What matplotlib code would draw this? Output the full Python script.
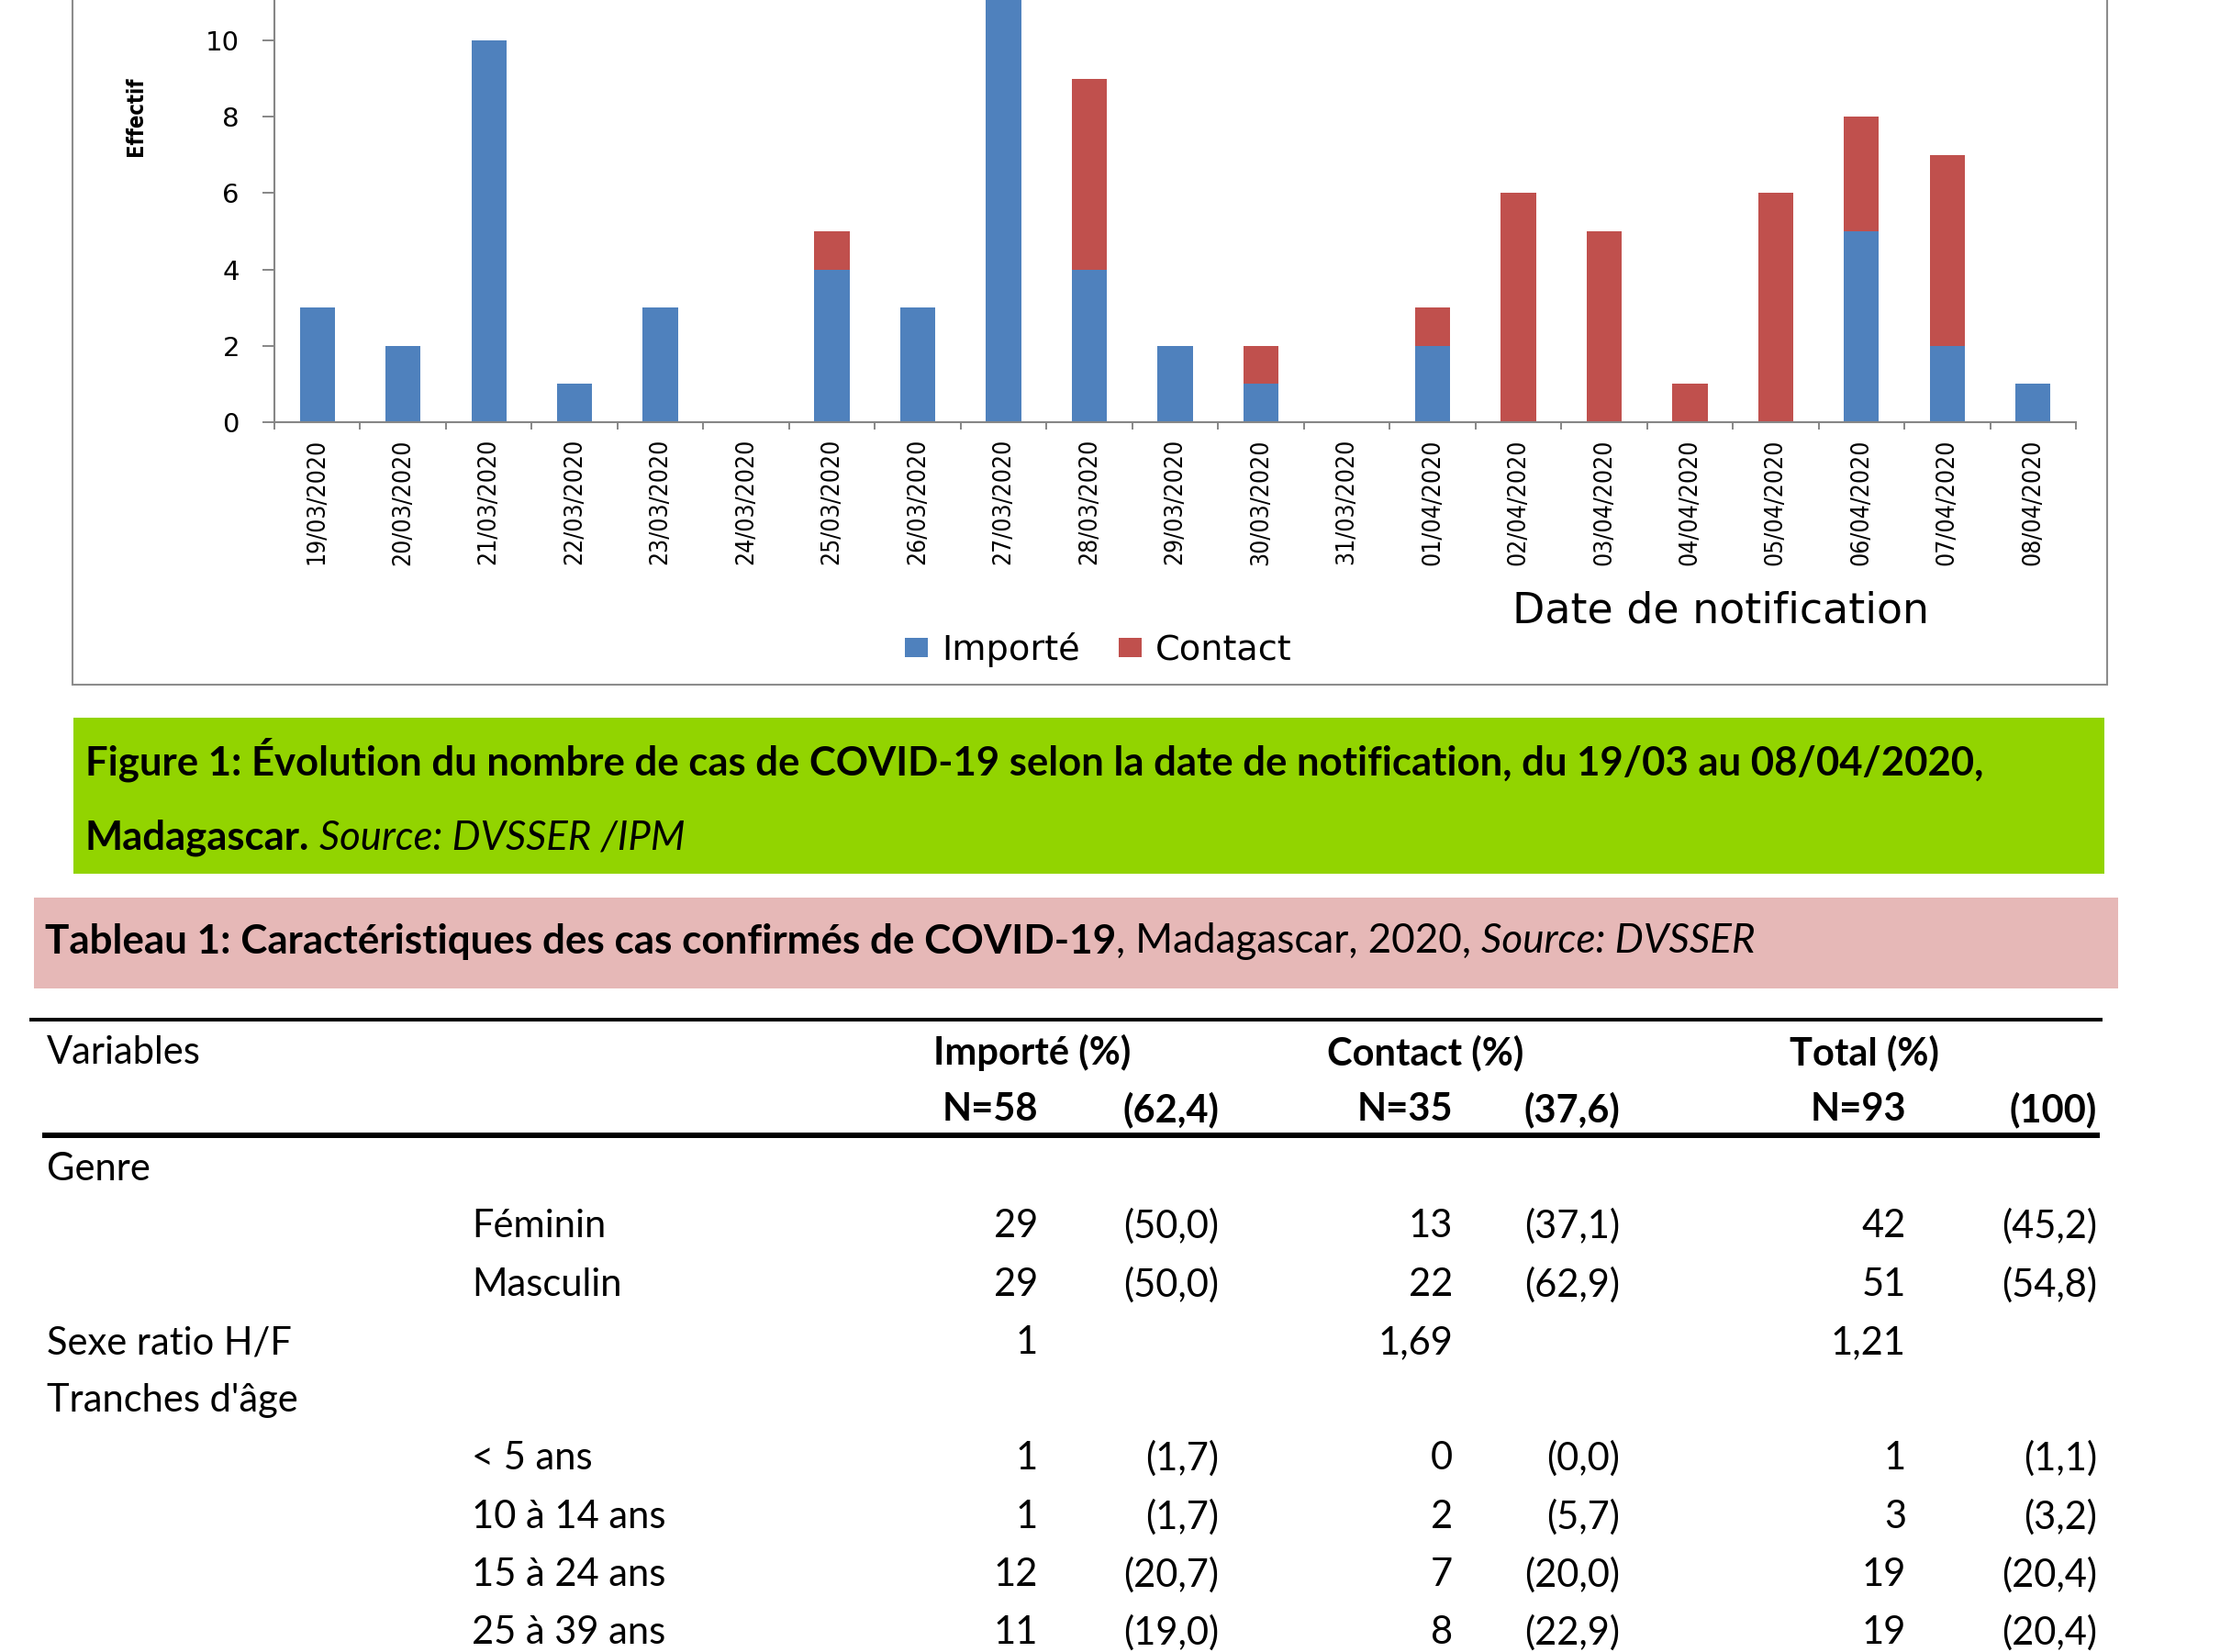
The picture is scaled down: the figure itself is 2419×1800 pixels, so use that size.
"""
Figure 1 + Tableau 1 : cas confirmés de COVID-19, Madagascar
"""
import matplotlib
matplotlib.use('Agg')
import matplotlib.pyplot as plt
from matplotlib import font_manager
from matplotlib.patches import Rectangle
import numpy as np

W, H = 2419, 1800

# Chart data: cases per notification date
dates = ['19/03/2020', '20/03/2020', '21/03/2020', '22/03/2020', '23/03/2020',
         '24/03/2020', '25/03/2020', '26/03/2020', '27/03/2020', '28/03/2020',
         '29/03/2020', '30/03/2020', '31/03/2020', '01/04/2020', '02/04/2020',
         '03/04/2020', '04/04/2020', '05/04/2020', '06/04/2020', '07/04/2020',
         '08/04/2020']
importe = [3, 2, 10, 1, 3, 0, 4, 3, 15, 4, 2, 1, 0, 2, 0, 0, 0, 0, 5, 2, 1]
contact = [0, 0, 0, 0, 0, 0, 1, 0, 1, 5, 0, 1, 0, 1, 6, 5, 1, 6, 3, 5, 0]

# Table data
group_headers = ['Importé (%)', 'Contact (%)', 'Total (%)']
group_n = [58, 35, 93]
group_pct = [62.4, 37.6, 100]
row_labels = ['Genre', 'Féminin', 'Masculin', 'Sexe ratio H/F', "Tranches d'âge",
              '< 5 ans', '10 à 14 ans', '15 à 24 ans', '25 à 39 ans']
row_levels = [0, 1, 1, 0, 0, 1, 1, 1, 1]
importe_n = [None, 29, 29, 1, None, 1, 1, 12, 11]
importe_pct = [None, 50.0, 50.0, None, None, 1.7, 1.7, 20.7, 19.0]
contact_n = [None, 13, 22, 1.69, None, 0, 2, 7, 8]
contact_pct = [None, 37.1, 62.9, None, None, 0.0, 5.7, 20.0, 22.9]
total_n = [None, 42, 51, 1.21, None, 1, 3, 19, 19]
total_pct = [None, 45.2, 54.8, None, None, 1.1, 3.2, 20.4, 20.4]

BLUE = '#4F81BD'
RED = '#C0504D'
AXIS_GREY = '#868686'

# condensed DejaVu for the rotated date labels, if it is installed
cond_file = font_manager.findfont(font_manager.FontProperties(family='DejaVu Sans', stretch='condensed'))
condensed = 'Condensed' in cond_file
XT_PROPS = {'family': 'DejaVu Sans', 'fontstretch': 'condensed' if condensed else 'normal',
            'fontsize': 19 if condensed else 17.5}

fig = plt.figure(figsize=(W / 100, H / 100), dpi=100, facecolor='white')

# overlay in pixel coordinates (y down) for frames, boxes and the table
lay = fig.add_axes([0, 0, 1, 1], zorder=0)
lay.set_xlim(0, W)
lay.set_ylim(H, 0)
lay.axis('off')
lay.patch.set_alpha(0)

# ---------------- chart ----------------
y0_px, unit_px, ymax = 460, 41.6, 16
ax = fig.add_axes([299 / W, 1 - y0_px / H, (2262 - 299) / W, ymax * unit_px / H], zorder=2)
ax.patch.set_alpha(0)
x = np.arange(len(dates))
b1 = ax.bar(x, importe, 0.41, color=BLUE, label='Importé')
b2 = ax.bar(x, contact, 0.41, bottom=importe, color=RED, label='Contact')
ax.set_xlim(-0.5, len(dates) - 0.5)
ax.set_ylim(0, ymax)
# ticks above 10 fall outside the page
ax.set_yticks(range(0, 11, 2))
ax.set_yticklabels([str(v) for v in range(0, 11, 2)], fontsize=21, family='DejaVu Sans')
ax.set_xticks(x)
ax.set_xticklabels(dates, rotation=90, **XT_PROPS)
ax.set_xticks(np.arange(-0.5, len(dates)), minor=True)
ax.tick_params(axis='x', which='major', length=0, pad=13)
ax.tick_params(axis='x', which='minor', length=6, width=1.4, color=AXIS_GREY)
ax.tick_params(axis='y', length=9.4, width=1.4, color=AXIS_GREY, pad=18)
for side in ('top', 'right'):
    ax.spines[side].set_visible(False)
for side in ('left', 'bottom'):
    ax.spines[side].set_color(AXIS_GREY)
    ax.spines[side].set_linewidth(1.5)

lay.text(148, 127, 'Effectif', rotation=90, ha='center', va='center', fontweight='bold',
         family='DejaVu Sans', fontstretch='condensed' if condensed else 'normal',
         fontsize=17 if condensed else 16)
lay.text(1875, 666, 'Date de notification', ha='center', va='center',
         family='DejaVu Sans', fontsize=33)
fig.legend(handles=[b1, b2], labels=['Importé', 'Contact'], loc='center',
           bbox_to_anchor=(1197 / W, 1 - 708 / H), ncol=2, frameon=False,
           prop={'family': 'DejaVu Sans', 'size': 27.5}, handlelength=0.65, handleheight=0.5,
           handletextpad=0.4, columnspacing=1.1)

# chart frame (top is cut off by the page)
lay.add_patch(Rectangle((79, -10), 2296 - 79, 746 + 10, fill=False,
                        edgecolor='#8c8c8c', lw=1.5))

# ---------------- caption boxes ----------------
renderer = fig.canvas.get_renderer()
BOLD = {'fontweight': 'bold'}
NORM = {}
ITAL = {'fontstyle': 'italic'}


def runs_width(runs, size):
    total = 0
    for text, style, gap in runs:
        t = lay.text(0, 0, text, fontsize=size, family='Lato', **style)
        total += t.get_window_extent(renderer).width + gap * size * 100 / 72
        t.remove()
    return total


def draw_runs(xp, yp, runs, size):
    for text, style, gap in runs:
        xp += gap * size * 100 / 72
        t = lay.text(xp, yp, text, fontsize=size, family='Lato', ha='left', va='center', **style)
        xp += t.get_window_extent(renderer).width


lay.add_patch(Rectangle((80, 782), 2293 - 80, 952 - 782, color='#92D400', lw=0))
fig_line1 = [('Figure 1: Évolution du nombre de cas de COVID-19 selon la date de notification, du 19/03 au 08/04/2020,', BOLD, 0)]
fig_line2 = [('Madagascar.', BOLD, 0), ('Source: DVSSER /IPM', ITAL, 0.25)]
cap_size = 30 * 2064 / runs_width(fig_line1, 30)
draw_runs(93, 828, fig_line1, cap_size)
draw_runs(93, 913, fig_line2, cap_size)

lay.add_patch(Rectangle((37, 978), 2308 - 37, 1077 - 978, color='#E6B8B7', lw=0))
tab_title = [('Tableau 1: Caractéristiques des cas confirmés de COVID-19', BOLD, 0),
             (', Madagascar, 2020,', NORM, 0), ('Source: DVSSER', ITAL, 0.25)]
tab_size = 30 * 1861 / runs_width(tab_title, 30)
draw_runs(49, 1026, tab_title, tab_size)

# ---------------- table ----------------
TS = 30


def fmt_n(v):
    if v is None:
        return ''
    if float(v).is_integer():
        return str(int(v))
    return f'{v:.2f}'.replace('.', ',')


def fmt_pct(v):
    if v is None:
        return ''
    if float(v).is_integer() and v >= 100:
        return f'({int(v)})'
    return f'({v:.1f})'.replace('.', ',')


lay.plot([32, 2291], [1111, 1111], color='black', lw=2.9, solid_capstyle='butt')
lay.plot([46, 2288], [1237, 1237], color='black', lw=4.3, solid_capstyle='butt')

n_right = [1131, 1583, 2077]
pct_right = [1328, 1765, 2285]
head_center = [1125, 1553, 2031]

lay.text(51, 1147, 'Variables', fontsize=TS, family='Lato', va='center')
for i in range(3):
    lay.text(head_center[i], 1147, group_headers[i], fontsize=TS, family='Lato',
             fontweight='bold', ha='center', va='center')
    lay.text(n_right[i], 1209, f'N={group_n[i]}', fontsize=TS, family='Lato',
             fontweight='bold', ha='right', va='center')
    lay.text(pct_right[i], 1209, fmt_pct(group_pct[i]), fontsize=TS, family='Lato',
             fontweight='bold', ha='right', va='center')

row_y = [1274, 1336, 1400, 1463, 1526, 1589, 1653, 1716, 1779]
label_x = [51, 514]
cols_n = [importe_n, contact_n, total_n]
cols_pct = [importe_pct, contact_pct, total_pct]
for r, label in enumerate(row_labels):
    yy = row_y[r]
    lay.text(label_x[row_levels[r]], yy, label, fontsize=TS, family='Lato', va='center')
    for i in range(3):
        lay.text(n_right[i], yy, fmt_n(cols_n[i][r]), fontsize=TS, family='Lato',
                 ha='right', va='center')
        lay.text(pct_right[i], yy, fmt_pct(cols_pct[i][r]), fontsize=TS, family='Lato',
                 ha='right', va='center')

fig.savefig('out.png', dpi=100, facecolor='white')
plt.close(fig)
